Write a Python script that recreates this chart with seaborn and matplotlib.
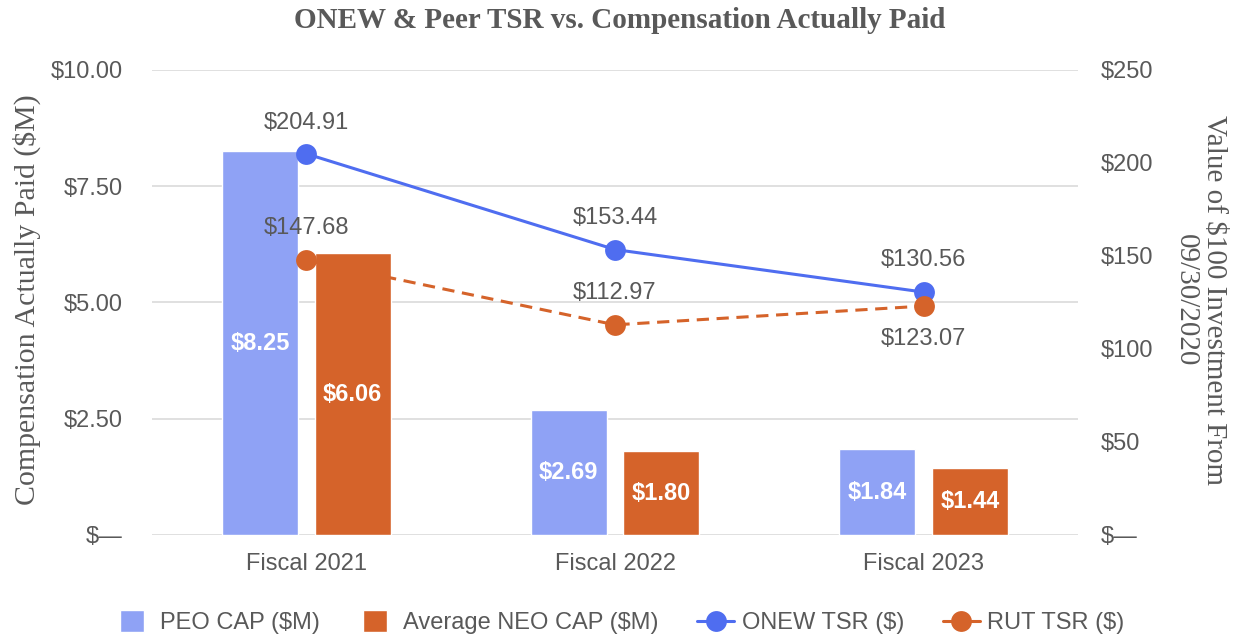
import numpy as np
import pandas as pd
import matplotlib.pyplot as plt
import matplotlib.patches as mpatches
from matplotlib.legend_handler import HandlerPatch
import seaborn as sns

# data
years = ["Fiscal 2021", "Fiscal 2022", "Fiscal 2023"]
peo_cap = [8.25, 2.69, 1.84]
neo_cap = [6.06, 1.80, 1.44]
onew_tsr = [204.91, 153.44, 130.56]
rut_tsr = [147.68, 112.97, 123.07]

bar_names = ["PEO CAP ($M)", "Average NEO CAP ($M)"]
line_names = ["ONEW TSR ($)", "RUT TSR ($)"]

BLUE_BAR = "#8FA2F5"
ORANGE = "#D5632A"
BLUE_LINE = "#4F6DF0"
GRAY = "#595959"
GRID = "#DADADA"

sns.set_style("white")
plt.rcParams["font.family"] = ["Liberation Sans", "DejaVu Sans"]

bars = pd.DataFrame({
    "year": years * 2,
    "series": [bar_names[0]] * 3 + [bar_names[1]] * 3,
    "cap": peo_cap + neo_cap,
})

fig = plt.figure(figsize=(12.4, 6.41), dpi=100)
ax = fig.add_axes([0.1226, 0.1654, 0.7468, 0.7255])

sns.barplot(data=bars, x="year", y="cap", hue="series", palette=[BLUE_BAR, ORANGE],
            saturation=1, width=0.6, gap=0.18, ax=ax)
bar_handles, bar_labels = ax.get_legend_handles_labels()
ax.legend_.remove()

# white value labels inside the bars
for cont, vals in zip(ax.containers, [peo_cap, neo_cap]):
    ax.bar_label(cont, labels=[f"${v:.2f}" for v in vals], label_type="center",
                 color="white", fontweight="bold", fontsize=17)

ax.set_ylim(0, 10)
ax.set_yticks(np.arange(0, 10.01, 2.5))
ax.set_yticklabels(["$\u2014" if v == 0 else f"${v:.2f}" for v in np.arange(0, 10.01, 2.5)])
ax.yaxis.grid(True, color=GRID, lw=1.2)
ax.set_axisbelow(True)
ax.set_xlabel("")
ax.set_ylabel("")
ax.tick_params(axis="y", length=0, labelsize=17, labelcolor=GRAY, pad=21)
ax.tick_params(axis="x", length=0, labelsize=17, labelcolor=GRAY, pad=13)
for s in ax.spines.values():
    s.set_visible(False)

# TSR lines on the right axis
ax2 = ax.twinx()
x = np.arange(len(years))
sns.lineplot(x=x, y=onew_tsr, ax=ax2, color=BLUE_LINE, marker="o", markersize=15,
             markeredgecolor=BLUE_LINE, markeredgewidth=0, linewidth=2.2, label=line_names[0])
sns.lineplot(x=x, y=rut_tsr, ax=ax2, color=ORANGE, marker="o", markersize=15,
             markeredgecolor=ORANGE, markeredgewidth=0, linewidth=2.2, linestyle=(0, (4, 2.5)),
             label=line_names[1])
line_handles, line_labels = ax2.get_legend_handles_labels()
ax2.legend_.remove()

onew_offsets = [22, 23, 23]
rut_offsets = [23, 23, -24]
for i, v in enumerate(onew_tsr):
    ax2.annotate(f"${v:.2f}", (i, v), xytext=(0, onew_offsets[i]), textcoords="offset points",
                 ha="center", va="center", fontsize=17, color=GRAY)
for i, v in enumerate(rut_tsr):
    ax2.annotate(f"${v:.2f}", (i, v), xytext=(0, rut_offsets[i]), textcoords="offset points",
                 ha="center", va="center", fontsize=17, color=GRAY)

ax2.set_ylim(0, 250)
ax2.set_yticks(np.arange(0, 251, 50))
ax2.set_yticklabels(["$\u2014" if v == 0 else f"${v}" for v in range(0, 251, 50)])
ax2.tick_params(axis="y", length=0, labelsize=17, labelcolor=GRAY, pad=16)
ax2.set_ylabel("")
for s in ax2.spines.values():
    s.set_visible(False)
ax.set_xlim(-0.5, 2.5)

# titles
fig.text(0.5, 1 - 20 / 641, "ONEW & Peer TSR vs. Compensation Actually Paid",
         ha="center", va="center", family="Liberation Serif", fontweight="bold",
         fontsize=21, color=GRAY)
fig.text(27 / 1240, 1 - 300 / 641, "Compensation Actually Paid ($M)", rotation=90,
         ha="center", va="center", family="Liberation Serif", fontsize=21.5, color=GRAY)
fig.text(1200 / 1240, 1 - 300 / 641, "Value of $100 Investment From\n09/30/2020", rotation=270,
         ha="center", va="center", multialignment="center", linespacing=1.1,
         family="Liberation Serif", fontsize=21, color=GRAY)


def square(legend, orig_handle, xdescent, ydescent, width, height, fontsize):
    w, h = 17.5, 15.5
    return mpatches.Rectangle((-xdescent + width - w - 6, -ydescent + height / 2 - h / 2), w, h)


leg = fig.legend(bar_handles + line_handles, bar_labels + line_labels, loc="center",
                 bbox_to_anchor=(0.5, 1 - 623 / 641), ncol=4, frameon=False, fontsize=17,
                 labelcolor=GRAY, handlelength=1.57, columnspacing=1.65, handletextpad=0.3,
                 handler_map={mpatches.Rectangle: HandlerPatch(patch_func=square)})
for ln in leg.get_lines():
    ln.set_linestyle("-")

fig.savefig("out.png", dpi=100)
